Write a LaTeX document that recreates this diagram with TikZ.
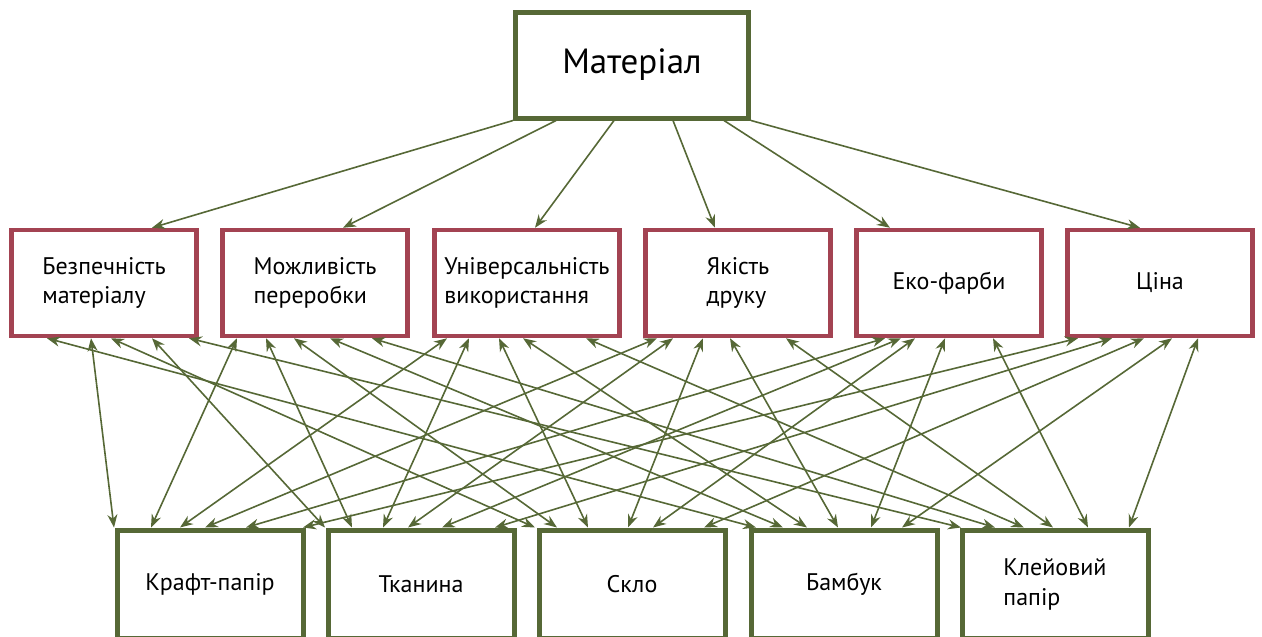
\documentclass[tikz,border=0pt]{standalone}
\usepackage{fontspec}
\setmainfont{PT Sans}
\usetikzlibrary{arrows.meta}
\definecolor{leaf}{RGB}{86,104,54}
\definecolor{wine}{RGB}{163,67,82}
\tikzset{
  goal/.style={draw=leaf, line width=5pt, minimum width=233pt, minimum height=106pt,
    font=\fontsize{35}{40}\selectfont},
  crit/.style={draw=wine, line width=4.5pt, minimum width=185pt, minimum height=106pt,
    align=left, font=\fontsize{24}{29}\selectfont},
  alt/.style={draw=leaf, line width=5pt, minimum width=186pt, minimum height=108pt,
    align=left, font=\fontsize{24}{30}\selectfont},
  link/.style={leaf, line width=1.6pt}
}
\begin{document}
\begin{tikzpicture}[x=1pt, y=-1pt, >={Stealth[length=13pt,width=10pt]}]
      \useasboundingbox (0,0) rectangle (1262,637);
      \clip (0,0) rectangle (1262,637);
      \draw
        (632,65) node[goal] (m){Матеріал}
        (104,283) node[crit] (k1){Безпечність\\матеріалу}
        (315,283) node[crit] (k2){Можливість\\переробки}
        (527,283) node[crit] (k3){Універсальність\\використання}
        (738,283) node[crit] (k4){Якість\\друку}
        (949,283) node[crit] (k5){Еко-фарби}
        (1160,283) node[crit] (k6){Ціна}
        (210,584) node[alt] (p1){Крафт-папір}
        (421,584) node[alt] (p2){Тканина}
        (632,584) node[alt] (p3){Скло}
        (844,584) node[alt] (p4){Бамбук}
        (1055,584) node[alt] (p5){Клейовий\\папір};
      \begin{scope}[link, ->]
        \draw (m.south west) to ([xshift=48pt]k1.north);
        \draw ([xshift=-76pt]m.south) to ([xshift=28pt]k2.north);
        \draw ([xshift=-18pt]m.south) to ([xshift=8pt]k3.north);
        \draw ([xshift=41pt]m.south) to ([xshift=-23pt]k4.north);
        \draw ([xshift=92pt]m.south) to ([xshift=-59pt]k5.north);
        \draw (m.south east) to ([xshift=-20pt]k6.north);
      \end{scope}
      \begin{scope}[link, <->]
        \draw ([xshift=-13pt]k1.south) to ([xshift=-96pt]p1.north);
        \draw ([xshift=48pt]k1.south) to ([xshift=-96pt]p2.north);
        \draw ([xshift=7pt]k1.south) to ([xshift=-97pt]p3.north);
        \draw ([xshift=-57pt]k1.south) to ([xshift=-88pt]p4.north);
        \draw ([xshift=85pt]k1.south) to ([xshift=-94pt]p5.north);
        \draw ([xshift=-78pt]k2.south) to ([xshift=-59pt]p1.north);
        \draw ([xshift=-49pt]k2.south) to ([xshift=-69pt]p2.north);
        \draw ([xshift=-21pt]k2.south) to ([xshift=-75pt]p3.north);
        \draw ([xshift=15pt]k2.south) to ([xshift=-61pt]p4.north);
        \draw ([xshift=57pt]k2.south) to ([xshift=-60pt]p5.north);
        \draw ([xshift=-80pt]k3.south) to ([xshift=-30pt]p1.north);
        \draw ([xshift=-58pt]k3.south) to ([xshift=-38pt]p2.north);
        \draw ([xshift=-28pt]k3.south) to ([xshift=-44pt]p3.north);
        \draw ([xshift=-4pt]k3.south) to ([xshift=-37pt]p4.north);
        \draw ([xshift=59pt]k3.south) to ([xshift=-31pt]p5.north);
        \draw ([xshift=-81pt]k4.south) to ([xshift=-5pt]p1.north);
        \draw ([xshift=-65pt]k4.south) to ([xshift=-13pt]p2.north);
        \draw ([xshift=-35pt]k4.south) to ([xshift=-4pt]p3.north);
        \draw ([xshift=-8pt]k4.south) to ([xshift=-6pt]p4.north);
        \draw ([xshift=48pt]k4.south) to ([xshift=-2pt]p5.north);
        \draw ([xshift=-64pt]k5.south) to ([xshift=36pt]p1.north);
        \draw ([xshift=-48pt]k5.south) to ([xshift=21pt]p2.north);
        \draw ([xshift=-34pt]k5.south) to ([xshift=21pt]p3.north);
        \draw ([xshift=-4pt]k5.south) to ([xshift=27pt]p4.north);
        \draw ([xshift=44pt]k5.south) to ([xshift=33pt]p5.north);
        \draw ([xshift=-82pt]k6.south) to ([xshift=93pt]p1.north);
        \draw ([xshift=-48pt]k6.south) to ([xshift=74pt]p2.north);
        \draw ([xshift=-16pt]k6.south) to ([xshift=72pt]p3.north);
        \draw ([xshift=12pt]k6.south) to ([xshift=58pt]p4.north);
        \draw ([xshift=38pt]k6.south) to ([xshift=74pt]p5.north);
      \end{scope}
    \end{tikzpicture}
\end{document}
